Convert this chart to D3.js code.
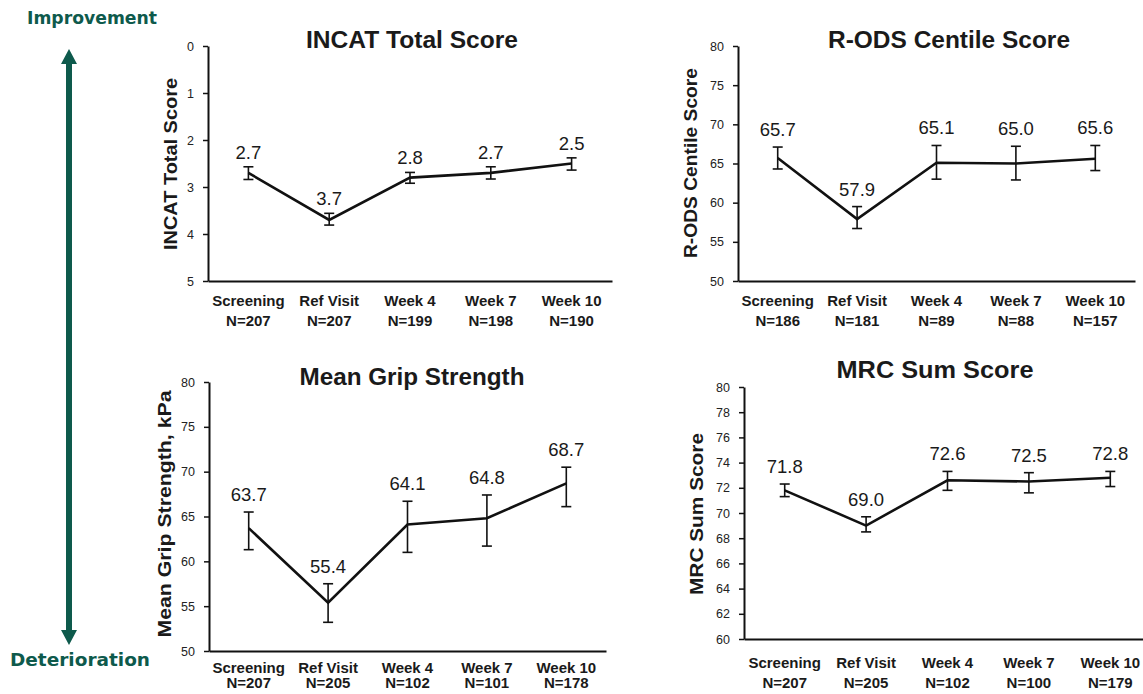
<!DOCTYPE html>
<html>
<head>
<meta charset="utf-8">
<script src="https://cdn.jsdelivr.net/npm/d3@7"></script>
<style>
  body { margin: 0; background: #fff; }
  svg { display: block; font-family: "Liberation Sans", Arial, sans-serif; }
</style>
</head>
<body>
<svg id="chart" width="1143" height="694"></svg>
<script>
// visits on the x axis (same for all four panels)
const visits = ["Screening", "Ref Visit", "Week 4", "Week 7", "Week 10"];

// INCAT total score (lower is better, axis reversed)
const incatN = ["N=207", "N=207", "N=199", "N=198", "N=190"];
const incatMean = [2.7, 3.7, 2.8, 2.7, 2.5];
const incatLow = [2.57, 3.56, 2.69, 2.57, 2.38];
const incatHigh = [2.84, 3.81, 2.92, 2.83, 2.64];
const incatTicks = [0, 1, 2, 3, 4, 5];

// R-ODS centile score
const rodsN = ["N=186", "N=181", "N=89", "N=88", "N=157"];
const rodsMean = [65.7, 57.9, 65.1, 65.0, 65.6];
const rodsLow = [64.3, 56.7, 63.0, 62.9, 64.1];
const rodsHigh = [67.1, 59.5, 67.3, 67.2, 67.3];
const rodsTicks = [50, 55, 60, 65, 70, 75, 80];

// mean grip strength, kPa
const gripN = ["N=207", "N=205", "N=102", "N=101", "N=178"];
const gripMean = [63.7, 55.4, 64.1, 64.8, 68.7];
const gripLow = [61.3, 53.2, 61.0, 61.7, 66.1];
const gripHigh = [65.5, 57.5, 66.7, 67.4, 70.5];
const gripTicks = [50, 55, 60, 65, 70, 75, 80];

// MRC sum score
const mrcN = ["N=207", "N=205", "N=102", "N=100", "N=179"];
const mrcMean = [71.8, 69.0, 72.6, 72.5, 72.8];
const mrcLow = [71.3, 68.5, 71.8, 71.6, 72.1];
const mrcHigh = [72.3, 69.7, 73.3, 73.2, 73.3];
const mrcTicks = [60, 62, 64, 66, 68, 70, 72, 74, 76, 78, 80];

const svg = d3.select("#chart");
const teal = "#0e5a4c";

// layout of each panel (pixels), values come from the arrays above
const panels = [
  { title: "INCAT Total Score", yLabel: "INCAT Total Score", n: incatN, mean: incatMean, low: incatLow, high: incatHigh,
    ticks: incatTicks, domain: [0, 5], left: 208, right: 612, top: 46, bottom: 281,
    titleX: 412, titleY: 48, titleLen: 212, yLabX: 177, yLabY: 164, yLabLen: 172, labGap: 8, xLabY: 306, nGap: 20 },
  { title: "R-ODS Centile Score", yLabel: "R-ODS Centile Score", n: rodsN, mean: rodsMean, low: rodsLow, high: rodsHigh,
    ticks: rodsTicks, domain: [80, 50], left: 738, right: 1135, top: 46, bottom: 281,
    titleX: 949, titleY: 48, titleLen: 242, yLabX: 697, yLabY: 163, yLabLen: 190, labGap: 11, xLabY: 306, nGap: 20 },
  { title: "Mean Grip Strength", yLabel: "Mean Grip Strength, kPa", n: gripN, mean: gripMean, low: gripLow, high: gripHigh,
    ticks: gripTicks, domain: [80, 50], left: 209, right: 606, top: 382, bottom: 651,
    titleX: 412, titleY: 385, titleLen: 225, yLabX: 171, yLabY: 514, yLabLen: 247, labGap: 11, xLabY: 673, nGap: 15 },
  { title: "MRC Sum Score", yLabel: "MRC Sum Score", n: mrcN, mean: mrcMean, low: mrcLow, high: mrcHigh,
    ticks: mrcTicks, domain: [80, 60], left: 744, right: 1151, top: 387, bottom: 639,
    titleX: 935, titleY: 378, titleLen: 197, yLabX: 703, yLabY: 514, yLabLen: 162, labGap: 11, xLabY: 668, nGap: 20 }
];

panels.forEach(p => {
  const g = svg.append("g");
  const x = d3.scalePoint().domain(visits).range([p.left, p.right]).padding(0.5);
  const y = d3.scaleLinear().domain(p.domain).range([p.top, p.bottom]);

  // y axis
  const yAxis = g.append("g")
    .attr("transform", `translate(${p.left},0)`)
    .call(d3.axisLeft(y).tickValues(p.ticks).tickFormat(d3.format("d"))
      .tickSize(5).tickSizeOuter(0).tickPadding(9));
  yAxis.select(".domain").attr("stroke", "#111").attr("stroke-width", 2);
  yAxis.selectAll(".tick line").attr("stroke", "#111").attr("stroke-width", 1.5);
  yAxis.selectAll(".tick text")
    .attr("fill", "#222")
    .style("font-size", "12.5px")
    .style("font-family", "'Liberation Sans', Arial, sans-serif");

  // x axis: plain line, labels drawn below
  const xAxis = g.append("g")
    .attr("transform", `translate(0,${p.bottom})`)
    .call(d3.axisBottom(x).tickSize(0).tickSizeOuter(0).tickFormat(""));
  xAxis.select(".domain").attr("stroke", "#111").attr("stroke-width", 2);

  const lab = g.selectAll(".xlab").data(visits).join("text")
    .attr("x", d => x(d))
    .attr("y", p.xLabY)
    .attr("text-anchor", "middle")
    .attr("font-weight", "bold")
    .attr("font-size", 15)
    .attr("fill", "#1a1a1a");
  lab.append("tspan").attr("x", d => x(d)).text(d => d);
  lab.append("tspan").attr("x", d => x(d)).attr("dy", p.nGap).text((d, i) => p.n[i]);

  // title
  g.append("text")
    .attr("x", p.titleX).attr("y", p.titleY)
    .attr("text-anchor", "middle")
    .attr("font-weight", "bold")
    .attr("font-size", 23)
    .attr("textLength", p.titleLen)
    .attr("lengthAdjust", "spacingAndGlyphs")
    .attr("fill", "#1a1a1a")
    .text(p.title);

  // y label
  g.append("text")
    .attr("transform", `translate(${p.yLabX},${p.yLabY}) rotate(-90)`)
    .attr("text-anchor", "middle")
    .attr("font-weight", "bold")
    .attr("font-size", 19)
    .attr("textLength", p.yLabLen)
    .attr("lengthAdjust", "spacingAndGlyphs")
    .attr("fill", "#1a1a1a")
    .text(p.yLabel);

  // error bars
  const top = i => Math.min(y(p.low[i]), y(p.high[i]));
  const bot = i => Math.max(y(p.low[i]), y(p.high[i]));
  const eb = g.selectAll(".eb").data(visits).join("g").attr("stroke", "#111").attr("stroke-width", 1.6);
  eb.append("line").attr("x1", d => x(d)).attr("x2", d => x(d))
    .attr("y1", (d, i) => top(i)).attr("y2", (d, i) => bot(i));
  eb.append("line").attr("x1", d => x(d) - 5).attr("x2", d => x(d) + 5)
    .attr("y1", (d, i) => top(i)).attr("y2", (d, i) => top(i));
  eb.append("line").attr("x1", d => x(d) - 5).attr("x2", d => x(d) + 5)
    .attr("y1", (d, i) => bot(i)).attr("y2", (d, i) => bot(i));

  // mean line
  const line = d3.line().x(d => x(d[0])).y(d => y(d[1]));
  g.append("path")
    .datum(visits.map((v, i) => [v, p.mean[i]]))
    .attr("d", line)
    .attr("fill", "none")
    .attr("stroke", "#111")
    .attr("stroke-width", 2.6);

  // value labels
  g.selectAll(".val").data(visits).join("text")
    .attr("x", d => x(d))
    .attr("y", (d, i) => top(i) - p.labGap)
    .attr("text-anchor", "middle")
    .attr("font-size", 18.5)
    .attr("fill", "#1a1a1a")
    .text((d, i) => p.mean[i].toFixed(1));
});

// improvement / deterioration arrow on the left
const arrowX = 69;
const arrowTop = 49, arrowBottom = 645;
svg.append("line")
  .attr("x1", arrowX).attr("x2", arrowX)
  .attr("y1", arrowTop + 10).attr("y2", arrowBottom - 10)
  .attr("stroke", teal).attr("stroke-width", 6);
svg.append("path")
  .attr("d", d3.line()([[arrowX, arrowTop], [arrowX + 8, arrowTop + 15], [arrowX - 8, arrowTop + 15]]) + "Z")
  .attr("fill", teal);
svg.append("path")
  .attr("d", d3.line()([[arrowX, arrowBottom], [arrowX + 8, arrowBottom - 15], [arrowX - 8, arrowBottom - 15]]) + "Z")
  .attr("fill", teal);

svg.append("text")
  .attr("x", 27).attr("y", 24)
  .attr("font-family", "'DejaVu Sans', sans-serif")
  .attr("font-weight", "bold").attr("font-size", 17)
  .attr("textLength", 130).attr("lengthAdjust", "spacingAndGlyphs")
  .attr("fill", teal)
  .text("Improvement");
svg.append("text")
  .attr("x", 10).attr("y", 666)
  .attr("font-family", "'DejaVu Sans', sans-serif")
  .attr("font-weight", "bold").attr("font-size", 18)
  .attr("textLength", 140).attr("lengthAdjust", "spacingAndGlyphs")
  .attr("fill", teal)
  .text("Deterioration");
</script>
</body>
</html>
